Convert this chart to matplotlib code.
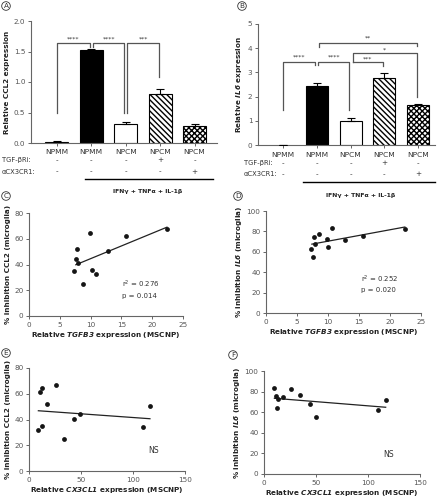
import matplotlib
matplotlib.use("Agg")
import matplotlib.pyplot as plt
import matplotlib.transforms as mtrans
import numpy as np

# ---------------- data ----------------
groups = ["NPMM", "NPMM", "NPCM", "NPCM", "NPCM"]
tgf_row = ["-", "-", "-", "+", "-"]
cx3_row = ["-", "-", "-", "-", "+"]

ccl2_mean = [0.02, 1.53, 0.31, 0.81, 0.28]
ccl2_err = [0.02, 0.01, 0.03, 0.08, 0.03]
il6_mean = [0.0, 2.43, 1.00, 2.75, 1.65]
il6_err = [0.0, 0.15, 0.13, 0.24, 0.03]

# panel C: TGFB3 vs % inhibition CCL2
c_x = [9.9, 15.8, 22.4, 7.85, 7.57, 8.0, 7.3, 10.2, 10.8, 8.7, 12.9]
c_y = [64.2, 62.1, 67.3, 52.3, 44.0, 40.9, 35.0, 35.7, 32.4, 24.9, 50.7]
c_fit_x = [7.6, 22.4]
c_fit_y = [39.8, 69.0]
# panel D: TGFB3 vs % inhibition IL6
d_x = [10.7, 22.4, 8.6, 7.8, 9.8, 12.8, 15.7, 7.9, 7.26, 10.05, 7.5]
d_y = [83.0, 82.4, 77.2, 74.2, 72.3, 71.9, 75.5, 68.0, 62.5, 64.4, 55.2]
d_fit_x = [7.4, 22.4]
d_fit_y = [67.5, 84.3]
# panel E: CX3CL1 vs % inhibition CCL2
e_x = [25.6, 12.2, 10.6, 17.0, 116.3, 49.0, 43.3, 12.2, 9.0, 109.3, 34.0]
e_y = [67.0, 64.6, 61.6, 52.0, 50.5, 44.0, 40.2, 35.2, 31.8, 34.4, 24.6]
e_fit_x = [9.0, 116.3]
e_fit_y = [46.8, 40.6]
# panel F: CX3CL1 vs % inhibition IL6
f_x = [9.9, 26.0, 35.0, 11.2, 17.9, 13.2, 44.2, 12.8, 49.7, 117.0, 109.9]
f_y = [83.2, 82.2, 77.0, 75.7, 74.5, 72.5, 68.0, 64.4, 55.6, 71.8, 62.4]
f_fit_x = [10.0, 117.0]
f_fit_y = [73.5, 64.8]

# ---------------- style ----------------
plt.rcParams['font.family'] = ['DejaVu Sans']
plt.rcParams['mathtext.fontset'] = 'dejavusans'
TICK_FS = 5.2
LAB_FS = 5.2
ROW_FS = 4.9
GREY = '#555555'
SPINE = '#666666'

W, H = 440, 500
fig = plt.figure(figsize=(4.4, 5.0), dpi=100)


def px_axes(l, t, r, b):
    return fig.add_axes([l / W, 1 - b / H, (r - l) / W, (b - t) / H])


def style(ax):
    for s in ['top', 'right']:
        ax.spines[s].set_visible(False)
    for s in ['left', 'bottom']:
        ax.spines[s].set_color(SPINE)
        ax.spines[s].set_linewidth(0.8)
    ax.tick_params(length=2.5, width=0.7, color=SPINE, labelsize=TICK_FS,
                   labelcolor=GREY, pad=1.5)


def panel_letter(x, y, s):
    fig.text(x / W, 1 - y / H, s, fontsize=5.2, ha='center', va='center',
             color='#333333',
             bbox=dict(boxstyle='circle,pad=0.18', fc='white', ec='#333333', lw=0.6))


def bar_panel(ax, means, errs, xlim, width, yl, ticks, fmt, ylabel,
              rows_px, label_x_px, line_px, ifn_px):
    x = np.arange(len(means))
    hatches = [None, None, None, '\\\\\\\\\\\\', 'xxxxxx']
    faces = ['white', 'black', 'white', 'white', 'white']
    for i in range(len(means)):
        ax.bar(x[i], means[i], width=width, color=faces[i], edgecolor='black',
               linewidth=0.8 if means[i] > 0 else 0, hatch=hatches[i], zorder=2)
    ax.errorbar(x, means, yerr=[np.zeros(len(errs)), errs], fmt='none',
                ecolor='black', elinewidth=0.8, capsize=3.2, capthick=0.8, zorder=3)
    ax.set_xlim(*xlim)
    ax.set_ylim(*yl)
    ax.set_yticks(ticks)
    ax.set_yticklabels([fmt.format(t) for t in ticks])
    ax.set_xticks(x)
    ax.set_xticklabels([])
    ax.tick_params(axis='x', length=2.0)
    style(ax)
    ax.set_ylabel(ylabel, fontsize=LAB_FS, fontweight='bold', color='#222222', labelpad=3)
    tr = mtrans.blended_transform_factory(ax.transData, fig.transFigure)
    y_grp, y_tgf, y_cx3 = [1 - v / H for v in rows_px]
    for i in range(len(means)):
        ax.text(x[i], y_grp, groups[i], transform=tr, ha='center', va='center',
                fontsize=TICK_FS + 0.2, color='#333333')
        ax.text(x[i], y_tgf, tgf_row[i], transform=tr, ha='center', va='center',
                fontsize=TICK_FS, color='#333333')
        ax.text(x[i], y_cx3, cx3_row[i], transform=tr, ha='center', va='center',
                fontsize=TICK_FS, color='#333333')
    fig.text(label_x_px / W, y_tgf, 'TGF-βRi:', ha='left', va='center',
             fontsize=ROW_FS, color='#333333')
    fig.text(label_x_px / W, y_cx3, 'αCX3CR1:', ha='left', va='center',
             fontsize=ROW_FS, color='#333333')
    x0, x1, yl_px = line_px
    fig.add_artist(plt.Line2D([x0 / W, x1 / W], [1 - yl_px / H, 1 - yl_px / H],
                              color='black', lw=1.0))
    fig.text(ifn_px[0] / W, 1 - ifn_px[1] / H, 'IFNγ + TNFα + IL-1β', ha='center',
             va='center', fontsize=4.4, fontweight='bold', color='#222222')


def bracket(ax, xa, xb, ytop, ya, yb, stars, ystar):
    ax.plot([xa, xa, xb, xb], [ya, ytop, ytop, yb], color='#555555', lw=0.9,
            clip_on=False, zorder=4)
    if stars:
        ax.text((xa + xb) / 2, ystar, stars, ha='center', va='center',
                fontsize=4.5, color='#333333')


# ---------------- panel A ----------------
axA = px_axes(31, 21, 217, 143)
bar_panel(axA, ccl2_mean, ccl2_err, (-0.75, 4.65), 0.67, (0, 2.0),
          [0, 0.5, 1.0, 1.5, 2.0], '{:.1f}', 'Relative CCL2 expression',
          (151.7, 160, 171.7), 2, (85, 213, 179.3), (148, 191.7))
bracket(axA, 0, 0.96, 1.64, 0.50, 1.58, '****', 1.71)
bracket(axA, 1.05, 1.96, 1.64, 1.58, 0.50, '****', 1.71)
bracket(axA, 2.04, 2.97, 1.64, 0.50, 1.08, '***', 1.71)
panel_letter(6, 6, 'A')

# ---------------- panel B ----------------
axB = px_axes(258, 24, 435, 145)
bar_panel(axB, il6_mean, il6_err, (-0.74, 4.5), 0.65, (0, 5),
          [0, 1, 2, 3, 4, 5], '{:d}', r'Relative $\mathbfit{IL6}$ expression',
          (155, 163.3, 174), 244, (303, 435, 181.7), (361, 196))
bracket(axB, 0, 0.95, 3.44, 1.45, 3.30, '****', 3.63)
bracket(axB, 1.05, 1.96, 3.44, 3.30, 1.45, '****', 3.63)
bracket(axB, 2.06, 2.95, 3.44, 3.44, 3.26, '***', 3.56)
bracket(axB, 2.06, 3.97, 3.79, 3.44, 2.0, '*', 3.94)
bracket(axB, 1.07, 3.97, 4.23, 4.06, 4.10, '**', 4.40)
panel_letter(242, 6, 'B')


# ---------------- scatter panels ----------------
def scatter_panel(ax, xs, ys, fx, fy, xlim, xticks, ylim, yticks, xlabel, ylabel):
    ax.scatter(xs, ys, s=12, color='#151515', zorder=3, linewidths=0)
    ax.plot(fx, fy, color='#222222', lw=0.9, zorder=2)
    ax.set_xlim(*xlim)
    ax.set_ylim(*ylim)
    ax.set_xticks(xticks)
    ax.set_yticks(yticks)
    style(ax)
    ax.set_xlabel(xlabel, fontsize=LAB_FS, fontweight='bold', color='#222222', labelpad=2)
    ax.set_ylabel(ylabel, fontsize=LAB_FS, fontweight='bold', color='#222222', labelpad=2)


axC = px_axes(29, 213, 183, 316)
scatter_panel(axC, c_x, c_y, c_fit_x, c_fit_y, (0, 25), [0, 5, 10, 15, 20, 25],
              (0, 80), [0, 20, 40, 60, 80],
              r'Relative $\mathbfit{TGFB3}$ expression (MSCNP)',
              '% inhibition CCL2 (microglia)')
axC.text(15.1, 24.9, 'r$^2$ = 0.276', fontsize=5.0, color='#333333', va='center')
axC.text(15.1, 15.5, 'p = 0.014', fontsize=5.0, color='#333333', va='center')
panel_letter(6, 196, 'C')

axD = px_axes(266, 211, 421, 313)
scatter_panel(axD, d_x, d_y, d_fit_x, d_fit_y, (0, 25), [0, 5, 10, 15, 20, 25],
              (0, 100), [0, 20, 40, 60, 80, 100],
              r'Relative $\mathbfit{TGFB3}$ expression (MSCNP)',
              r'% inhibition $\mathbfit{IL6}$ (microglia)')
axD.text(15.4, 33, 'r$^2$ = 0.252', fontsize=5.0, color='#333333', va='center')
axD.text(15.4, 22.5, 'p = 0.020', fontsize=5.0, color='#333333', va='center')
panel_letter(238, 196, 'D')

axE = px_axes(29, 368, 185, 471)
scatter_panel(axE, e_x, e_y, e_fit_x, e_fit_y, (0, 150), [0, 50, 100, 150],
              (0, 80), [0, 20, 40, 60, 80],
              r'Relative $\mathbfit{CX3CL1}$ expression (MSCNP)',
              '% inhibition CCL2 (microglia)')
axE.text(119.7, 16.3, 'NS', fontsize=5.6, color='#333333', ha='center', va='center')
panel_letter(6, 353, 'E')

axF = px_axes(264, 371, 420, 474)
scatter_panel(axF, f_x, f_y, f_fit_x, f_fit_y, (0, 150), [0, 50, 100, 150],
              (0, 100), [0, 20, 40, 60, 80, 100],
              r'Relative $\mathbfit{CX3CL1}$ expression (MSCNP)',
              r'% inhibition $\mathbfit{IL6}$ (microglia)')
axF.text(120, 19.4, 'NS', fontsize=5.6, color='#333333', ha='center', va='center')
panel_letter(233, 355, 'F')

fig.savefig('out.png', dpi=100)
